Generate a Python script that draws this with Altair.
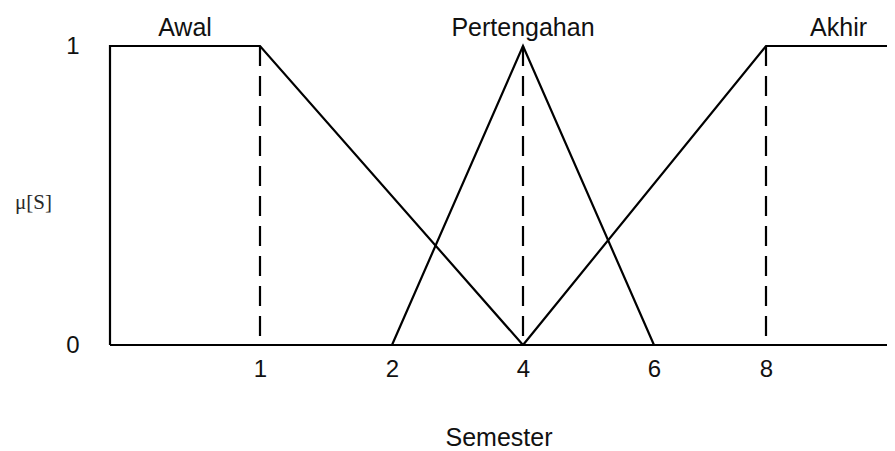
import altair as alt
import pandas as pd

# Membership function vertices (Semester, mu)
awal_x = [0, 0, 1, 4]
awal_y = [0, 1, 1, 0]
tengah_x = [2, 4, 6]
tengah_y = [0, 1, 0]
akhir_x = [4, 8, 10]
akhir_y = [0, 1, 1]
base_x = [0, 10]
base_y = [0, 0]

dash_x = [1, 4, 8]

label_text = ["Awal", "Pertengahan", "Akhir"]
label_x = [0.5, 4, 9.2]
label_y = [1.035, 1.035, 1.035]

x_ticks = [1, 2, 4, 6, 8]
y_ticks = [0, 1]

rows = []
for name, xs, ys in [("Awal", awal_x, awal_y), ("Pertengahan", tengah_x, tengah_y),
                     ("Akhir", akhir_x, akhir_y), ("Base", base_x, base_y)]:
    for i, (x, y) in enumerate(zip(xs, ys)):
        rows.append({"series": name, "x": x, "y": y, "order": i})
lines_df = pd.DataFrame(rows)
dash_df = pd.DataFrame({"x": dash_x, "top": [1] * len(dash_x), "bottom": [0] * len(dash_x)})
lab_df = pd.DataFrame({"text": label_text, "x": label_x, "y": label_y})

W, H = 777, 299
xscale = alt.Scale(domain=[0, 1, 2, 4, 6, 8, 10], range=[0, 150, 282, 413, 544, 656, 777],
                   nice=False, zero=False)
yscale = alt.Scale(domain=[0, 1], nice=False, zero=True)

xaxis = alt.Axis(values=x_ticks, format="d", title="Semester", domain=False, ticks=False, grid=False,
                 labelPadding=12, titlePadding=44, labelFontSize=24, titleFontSize=25,
                 labelFont="Liberation Sans", titleFont="Liberation Sans",
                 titleFontWeight="normal", labelColor="#111", titleColor="#111")
yaxis = alt.Axis(values=y_ticks, format="d", title="μ[S]", domain=False, ticks=False, grid=False,
                 labelPadding=31, labelFontSize=24, labelFont="Liberation Sans",
                 titleFont="Liberation Serif", titleFontSize=21, titleFontWeight="normal",
                 titleAngle=0, titleX=-77, titleY=156, titleAlign="center",
                 titleBaseline="middle", labelColor="#111", titleColor="#2a2a2a")

lines = alt.Chart(lines_df).mark_line(color="black", strokeWidth=2.2).encode(
    x=alt.X("x:Q", scale=xscale, axis=xaxis),
    y=alt.Y("y:Q", scale=yscale, axis=yaxis),
    detail="series:N",
    order="order:Q",
)

dashes = alt.Chart(dash_df).mark_rule(color="black", strokeWidth=2.2, strokeDash=[20, 10]).encode(
    x=alt.X("x:Q", scale=xscale),
    y=alt.Y("top:Q", scale=yscale),
    y2="bottom:Q",
)

labels = alt.Chart(lab_df).mark_text(fontSize=25, font="Liberation Sans", baseline="alphabetic",
                                     align="center", color="#111").encode(
    x=alt.X("x:Q", scale=xscale),
    y=alt.Y("y:Q", scale=yscale),
    text="text:N",
)

chart = alt.layer(dashes, lines, labels).properties(
    width=W, height=H,
    background="white",
    autosize=alt.AutoSizeParams(type="none"),
    padding={"left": 102, "top": 38, "right": 0, "bottom": 106},
).configure_view(strokeWidth=0).configure_axis(grid=False)

chart.save("out.html", embed_options={"renderer": "svg", "actions": False})
